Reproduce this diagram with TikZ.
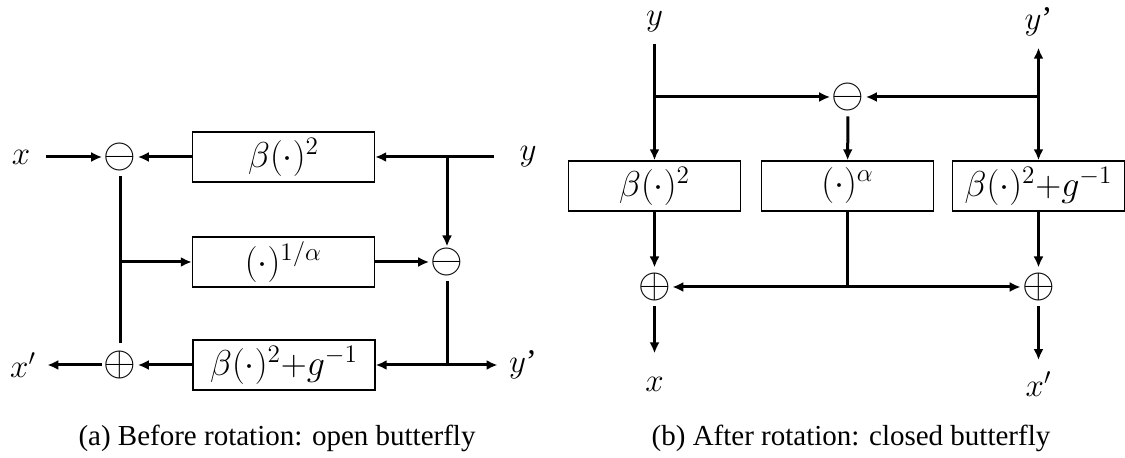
\RequirePackage{fix-cm}
\documentclass[tikz,border=0pt]{standalone}
\usepackage[no-math]{fontspec}
\setmainfont{Liberation Serif}
\usepackage{amsmath}
\usetikzlibrary{arrows.meta}

\begin{document}
\begin{tikzpicture}[x=0.5pt,y=-0.5pt,>={Latex[length=5.5pt,width=5pt]},line width=1.5pt]
\tikzstyle{box}=[rectangle,draw=black,line width=0.7pt,minimum width=91pt,minimum height=25pt,inner sep=1pt,font=\fontsize{18}{21}\selectfont]
\tikzstyle{op}=[inner sep=0pt,font=\fontsize{21}{24}\selectfont]
\tikzstyle{lab}=[inner sep=5pt,font=\fontsize{16.5}{20}\selectfont]
\tikzstyle{captext}=[inner sep=0pt,font=\fontsize{14.5}{17}\selectfont]
\useasboundingbox (0,0) rectangle (1125,458);
\node[lab] (xa) at (21,157) {$x$};
\node[op] (sa) at (120,157) {$\ominus$};
\node[box] (ba) at (283.5,157) {$\beta(\cdot)^2$};
\node[lab] (ya) at (528,157) {$y$};
\node[box] (pa) at (283.5,262) {$(\cdot)^{1/\alpha}$};
\node[op] (ta) at (447,262) {$\ominus$};
\node[lab] (xpa) at (23,365) {$x'$};
\node[op] (aa) at (120,365) {$\oplus$};
\node[box] (ga) at (284,365) {$\beta(\cdot)^2{+}g^{-1}$};
\node[lab] (ypa) at (523,365) {$y$’};
\coordinate (ja) at (447,157);
\coordinate (ka) at (447,365);
\coordinate (la) at (120,262);
\draw[->,shorten <=2pt] (xa)--(sa);\draw[->] (ba)--(sa);\draw[->,shorten <=7pt] (ya)--(ba);
\draw[->] (ja)--(ta);\draw[shorten <=2pt,shorten >=3pt] (sa)--(aa);\draw[->] (la)--(pa);\draw[->] (pa)--(ta);
\draw[shorten <=2pt] (ta)--(ka);\draw[->] (ka)--(ypa);\draw[->] (ka)--(ga);\draw[->] (ga)--(aa);\draw[->] (aa)--(xpa);
\node[lab] (yb) at (654.5,22) {$y$};
\node[lab] (ypb) at (1038.5,22) {$y$’};
\node[op] (sb) at (848,97) {$\ominus$};
\coordinate (jb) at (654.5,97);
\coordinate (kb) at (1038.5,97);
\node[box,minimum width=86pt] (bb) at (654.5,186) {$\beta(\cdot)^2$};
\node[box,minimum width=86pt] (pb) at (847.5,186) {$(\cdot)^{\alpha}$};
\node[box,minimum width=86pt] (gb) at (1038.5,186) {$\beta(\cdot)^2{+}g^{-1}$};
\node[op] (ab) at (654.5,287) {$\oplus$};
\node[op] (cb) at (1038.5,287) {$\oplus$};
\coordinate (lb) at (847.5,287);
\node[lab] (xb) at (654.5,384) {$x$};
\node[lab] (xpb) at (1038.5,384) {$x'$};
\draw[->] (yb)--(bb);\draw[->] (jb)--(sb);\draw[->] (kb)--(sb);\draw[<->] (ypb)--(gb);
\draw[->,shorten <=2pt] (sb)--(pb);\draw (pb)--(lb);\draw[->] (lb)--(ab);\draw[->] (lb)--(cb);
\draw[->,shorten >=2pt] (bb)--(ab);\draw[->,shorten >=2pt] (gb)--(cb);
\draw[->,shorten <=2pt,shorten >=6pt] (ab)--(xb);\draw[->,shorten <=2pt] (cb)--(xpb);
\node[captext] (capa) at (277,438) {(a) Before rotation: open butterfly};
\node[captext] (capb) at (851,438) {(b) After rotation: closed butterfly};
\end{tikzpicture}
\end{document}
